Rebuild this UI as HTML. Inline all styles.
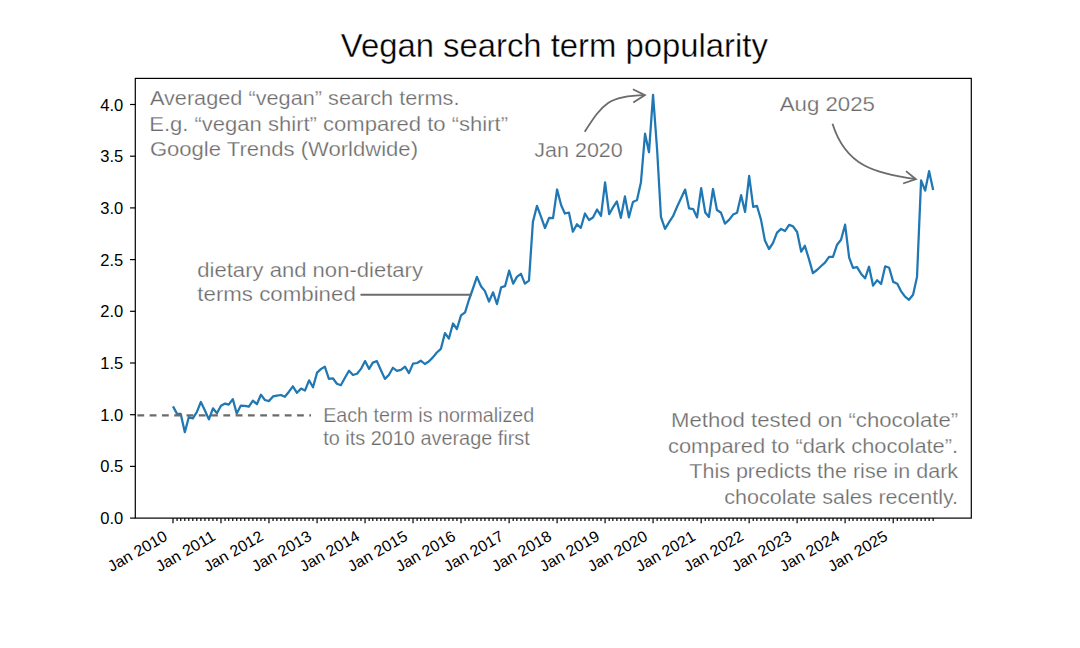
<!DOCTYPE html>
<html><head><meta charset="utf-8"><style>
html,body{margin:0;padding:0;background:#fff;width:1080px;height:648px;overflow:hidden}
svg text{font-family:"Liberation Sans", sans-serif}
</style></head><body>
<svg width="1080" height="648" viewBox="0 0 1080 648" style="display:block">
<rect width="1080" height="648" fill="#fff"/>
<text x="554.3" y="56.8" text-anchor="middle" font-size="33" fill="#000" stroke="#fff" stroke-width="0.35" textLength="427" lengthAdjust="spacingAndGlyphs">Vegan search term popularity</text>
<polyline points="173.00,406.40 177.07,413.90 180.76,413.90 184.83,432.20 188.77,417.20 192.85,418.30 196.79,412.20 200.87,402.00 204.94,410.60 208.89,419.40 212.96,408.30 216.90,413.30 220.98,405.80 225.05,403.60 228.73,404.70 232.81,399.10 236.75,413.60 240.83,405.60 244.77,405.80 248.85,406.70 252.92,400.60 256.87,404.20 260.94,394.70 264.88,400.00 268.96,401.10 273.03,396.40 276.85,395.60 280.92,395.00 284.86,396.80 288.94,391.70 292.88,386.30 296.96,392.80 301.03,388.60 304.98,390.60 309.05,380.30 312.99,387.20 317.07,372.60 321.14,368.90 324.82,366.70 328.90,378.90 332.84,378.30 336.92,383.70 340.86,385.20 344.94,377.80 349.01,370.80 352.96,375.00 357.03,373.70 360.97,368.90 365.05,361.10 369.12,368.90 372.80,362.60 376.88,361.10 380.82,370.00 384.90,378.90 388.84,375.00 392.92,367.80 396.99,370.80 400.93,369.80 405.01,366.70 408.95,373.10 413.03,363.60 417.10,363.00 420.78,360.70 424.86,364.00 428.80,361.50 432.88,357.40 436.82,352.50 440.90,348.80 444.97,333.10 448.91,338.50 452.99,323.50 456.93,329.00 461.01,315.40 465.08,312.30 468.89,300.00 472.97,288.50 476.91,276.90 480.99,286.20 484.93,291.10 489.01,301.60 493.08,292.30 497.02,304.10 501.10,287.40 505.04,286.20 509.12,270.70 513.19,283.70 516.87,276.90 520.95,273.80 524.89,283.70 528.97,280.60 532.91,221.90 536.99,205.80 541.06,216.90 545.00,228.00 549.08,217.90 553.02,218.10 557.10,189.50 561.17,205.20 564.85,213.50 568.93,212.60 572.87,231.70 576.95,224.30 580.89,227.80 584.96,213.50 589.04,220.00 592.98,217.50 597.06,209.50 601.00,215.90 605.08,182.30 609.15,214.10 612.83,207.70 616.91,201.40 620.85,217.80 624.93,196.40 628.87,217.40 632.94,202.00 637.02,200.10 640.96,182.20 645.04,133.70 648.98,152.20 653.06,94.80 657.13,150.00 660.94,216.80 665.02,228.90 668.96,222.30 673.04,216.20 676.98,207.00 681.05,198.30 685.13,189.60 689.07,208.40 693.15,209.10 697.09,217.40 701.17,188.10 705.24,212.50 708.92,217.00 713.00,189.00 716.94,210.00 721.02,212.80 724.96,223.60 729.03,219.90 733.11,214.60 737.05,212.80 741.13,195.20 745.07,211.90 749.15,175.80 753.22,206.90 756.90,205.80 760.98,219.60 764.92,240.60 768.99,249.00 772.94,243.10 777.01,232.60 781.09,228.90 785.03,231.00 789.11,224.80 793.05,226.40 797.12,232.00 801.20,251.70 804.88,245.80 808.96,259.10 812.90,273.10 816.97,270.00 820.92,266.30 824.99,262.60 829.07,256.80 833.01,256.80 837.09,244.70 841.03,239.80 845.10,224.70 849.18,257.70 852.99,267.90 857.07,267.20 861.01,273.70 865.08,278.30 869.03,266.70 873.10,285.70 877.18,280.20 881.12,284.00 885.20,266.30 889.14,267.70 893.21,281.90 897.29,283.70 900.97,291.10 905.05,296.70 908.99,299.80 913.06,294.80 917.01,276.90 921.08,180.40 925.16,190.60 929.10,171.20 933.18,189.90" fill="none" stroke="#1f77b4" stroke-width="2.25" stroke-linejoin="round" stroke-linecap="butt"/>
<line x1="137.4" y1="415.4" x2="311" y2="415.4" stroke="#6b6b6b" stroke-width="2.2" stroke-dasharray="6.8 5.48"/>
<rect x="135.3" y="78.4" width="836.0" height="439.70000000000005" fill="none" stroke="#000" stroke-width="1.2"/>
<line x1="130.05" y1="518.10" x2="135.3" y2="518.10" stroke="#000" stroke-width="1.2"/>
<text x="123.25000000000001" y="524.10" text-anchor="end" font-size="15.6" fill="#000" textLength="23" lengthAdjust="spacingAndGlyphs">0.0</text>
<line x1="130.05" y1="466.40" x2="135.3" y2="466.40" stroke="#000" stroke-width="1.2"/>
<text x="123.25000000000001" y="472.40" text-anchor="end" font-size="15.6" fill="#000" textLength="23" lengthAdjust="spacingAndGlyphs">0.5</text>
<line x1="130.05" y1="414.70" x2="135.3" y2="414.70" stroke="#000" stroke-width="1.2"/>
<text x="123.25000000000001" y="420.70" text-anchor="end" font-size="15.6" fill="#000" textLength="23" lengthAdjust="spacingAndGlyphs">1.0</text>
<line x1="130.05" y1="363.00" x2="135.3" y2="363.00" stroke="#000" stroke-width="1.2"/>
<text x="123.25000000000001" y="369.00" text-anchor="end" font-size="15.6" fill="#000" textLength="23" lengthAdjust="spacingAndGlyphs">1.5</text>
<line x1="130.05" y1="311.30" x2="135.3" y2="311.30" stroke="#000" stroke-width="1.2"/>
<text x="123.25000000000001" y="317.30" text-anchor="end" font-size="15.6" fill="#000" textLength="23" lengthAdjust="spacingAndGlyphs">2.0</text>
<line x1="130.05" y1="259.60" x2="135.3" y2="259.60" stroke="#000" stroke-width="1.2"/>
<text x="123.25000000000001" y="265.60" text-anchor="end" font-size="15.6" fill="#000" textLength="23" lengthAdjust="spacingAndGlyphs">2.5</text>
<line x1="130.05" y1="207.90" x2="135.3" y2="207.90" stroke="#000" stroke-width="1.2"/>
<text x="123.25000000000001" y="213.90" text-anchor="end" font-size="15.6" fill="#000" textLength="23" lengthAdjust="spacingAndGlyphs">3.0</text>
<line x1="130.05" y1="156.20" x2="135.3" y2="156.20" stroke="#000" stroke-width="1.2"/>
<text x="123.25000000000001" y="162.20" text-anchor="end" font-size="15.6" fill="#000" textLength="23" lengthAdjust="spacingAndGlyphs">3.5</text>
<line x1="130.05" y1="104.50" x2="135.3" y2="104.50" stroke="#000" stroke-width="1.2"/>
<text x="123.25000000000001" y="110.50" text-anchor="end" font-size="15.6" fill="#000" textLength="23" lengthAdjust="spacingAndGlyphs">4.0</text>
<line x1="173.00" y1="518.1" x2="173.00" y2="523.35" stroke="#000" stroke-width="1.2"/>
<line x1="177.07" y1="518.1" x2="177.07" y2="521.1" stroke="#000" stroke-width="1.2"/>
<line x1="180.76" y1="518.1" x2="180.76" y2="521.1" stroke="#000" stroke-width="1.2"/>
<line x1="184.83" y1="518.1" x2="184.83" y2="521.1" stroke="#000" stroke-width="1.2"/>
<line x1="188.77" y1="518.1" x2="188.77" y2="521.1" stroke="#000" stroke-width="1.2"/>
<line x1="192.85" y1="518.1" x2="192.85" y2="521.1" stroke="#000" stroke-width="1.2"/>
<line x1="196.79" y1="518.1" x2="196.79" y2="521.1" stroke="#000" stroke-width="1.2"/>
<line x1="200.87" y1="518.1" x2="200.87" y2="521.1" stroke="#000" stroke-width="1.2"/>
<line x1="204.94" y1="518.1" x2="204.94" y2="521.1" stroke="#000" stroke-width="1.2"/>
<line x1="208.89" y1="518.1" x2="208.89" y2="521.1" stroke="#000" stroke-width="1.2"/>
<line x1="212.96" y1="518.1" x2="212.96" y2="521.1" stroke="#000" stroke-width="1.2"/>
<line x1="216.90" y1="518.1" x2="216.90" y2="521.1" stroke="#000" stroke-width="1.2"/>
<line x1="220.98" y1="518.1" x2="220.98" y2="523.35" stroke="#000" stroke-width="1.2"/>
<line x1="225.05" y1="518.1" x2="225.05" y2="521.1" stroke="#000" stroke-width="1.2"/>
<line x1="228.73" y1="518.1" x2="228.73" y2="521.1" stroke="#000" stroke-width="1.2"/>
<line x1="232.81" y1="518.1" x2="232.81" y2="521.1" stroke="#000" stroke-width="1.2"/>
<line x1="236.75" y1="518.1" x2="236.75" y2="521.1" stroke="#000" stroke-width="1.2"/>
<line x1="240.83" y1="518.1" x2="240.83" y2="521.1" stroke="#000" stroke-width="1.2"/>
<line x1="244.77" y1="518.1" x2="244.77" y2="521.1" stroke="#000" stroke-width="1.2"/>
<line x1="248.85" y1="518.1" x2="248.85" y2="521.1" stroke="#000" stroke-width="1.2"/>
<line x1="252.92" y1="518.1" x2="252.92" y2="521.1" stroke="#000" stroke-width="1.2"/>
<line x1="256.87" y1="518.1" x2="256.87" y2="521.1" stroke="#000" stroke-width="1.2"/>
<line x1="260.94" y1="518.1" x2="260.94" y2="521.1" stroke="#000" stroke-width="1.2"/>
<line x1="264.88" y1="518.1" x2="264.88" y2="521.1" stroke="#000" stroke-width="1.2"/>
<line x1="268.96" y1="518.1" x2="268.96" y2="523.35" stroke="#000" stroke-width="1.2"/>
<line x1="273.03" y1="518.1" x2="273.03" y2="521.1" stroke="#000" stroke-width="1.2"/>
<line x1="276.85" y1="518.1" x2="276.85" y2="521.1" stroke="#000" stroke-width="1.2"/>
<line x1="280.92" y1="518.1" x2="280.92" y2="521.1" stroke="#000" stroke-width="1.2"/>
<line x1="284.86" y1="518.1" x2="284.86" y2="521.1" stroke="#000" stroke-width="1.2"/>
<line x1="288.94" y1="518.1" x2="288.94" y2="521.1" stroke="#000" stroke-width="1.2"/>
<line x1="292.88" y1="518.1" x2="292.88" y2="521.1" stroke="#000" stroke-width="1.2"/>
<line x1="296.96" y1="518.1" x2="296.96" y2="521.1" stroke="#000" stroke-width="1.2"/>
<line x1="301.03" y1="518.1" x2="301.03" y2="521.1" stroke="#000" stroke-width="1.2"/>
<line x1="304.98" y1="518.1" x2="304.98" y2="521.1" stroke="#000" stroke-width="1.2"/>
<line x1="309.05" y1="518.1" x2="309.05" y2="521.1" stroke="#000" stroke-width="1.2"/>
<line x1="312.99" y1="518.1" x2="312.99" y2="521.1" stroke="#000" stroke-width="1.2"/>
<line x1="317.07" y1="518.1" x2="317.07" y2="523.35" stroke="#000" stroke-width="1.2"/>
<line x1="321.14" y1="518.1" x2="321.14" y2="521.1" stroke="#000" stroke-width="1.2"/>
<line x1="324.82" y1="518.1" x2="324.82" y2="521.1" stroke="#000" stroke-width="1.2"/>
<line x1="328.90" y1="518.1" x2="328.90" y2="521.1" stroke="#000" stroke-width="1.2"/>
<line x1="332.84" y1="518.1" x2="332.84" y2="521.1" stroke="#000" stroke-width="1.2"/>
<line x1="336.92" y1="518.1" x2="336.92" y2="521.1" stroke="#000" stroke-width="1.2"/>
<line x1="340.86" y1="518.1" x2="340.86" y2="521.1" stroke="#000" stroke-width="1.2"/>
<line x1="344.94" y1="518.1" x2="344.94" y2="521.1" stroke="#000" stroke-width="1.2"/>
<line x1="349.01" y1="518.1" x2="349.01" y2="521.1" stroke="#000" stroke-width="1.2"/>
<line x1="352.96" y1="518.1" x2="352.96" y2="521.1" stroke="#000" stroke-width="1.2"/>
<line x1="357.03" y1="518.1" x2="357.03" y2="521.1" stroke="#000" stroke-width="1.2"/>
<line x1="360.97" y1="518.1" x2="360.97" y2="521.1" stroke="#000" stroke-width="1.2"/>
<line x1="365.05" y1="518.1" x2="365.05" y2="523.35" stroke="#000" stroke-width="1.2"/>
<line x1="369.12" y1="518.1" x2="369.12" y2="521.1" stroke="#000" stroke-width="1.2"/>
<line x1="372.80" y1="518.1" x2="372.80" y2="521.1" stroke="#000" stroke-width="1.2"/>
<line x1="376.88" y1="518.1" x2="376.88" y2="521.1" stroke="#000" stroke-width="1.2"/>
<line x1="380.82" y1="518.1" x2="380.82" y2="521.1" stroke="#000" stroke-width="1.2"/>
<line x1="384.90" y1="518.1" x2="384.90" y2="521.1" stroke="#000" stroke-width="1.2"/>
<line x1="388.84" y1="518.1" x2="388.84" y2="521.1" stroke="#000" stroke-width="1.2"/>
<line x1="392.92" y1="518.1" x2="392.92" y2="521.1" stroke="#000" stroke-width="1.2"/>
<line x1="396.99" y1="518.1" x2="396.99" y2="521.1" stroke="#000" stroke-width="1.2"/>
<line x1="400.93" y1="518.1" x2="400.93" y2="521.1" stroke="#000" stroke-width="1.2"/>
<line x1="405.01" y1="518.1" x2="405.01" y2="521.1" stroke="#000" stroke-width="1.2"/>
<line x1="408.95" y1="518.1" x2="408.95" y2="521.1" stroke="#000" stroke-width="1.2"/>
<line x1="413.03" y1="518.1" x2="413.03" y2="523.35" stroke="#000" stroke-width="1.2"/>
<line x1="417.10" y1="518.1" x2="417.10" y2="521.1" stroke="#000" stroke-width="1.2"/>
<line x1="420.78" y1="518.1" x2="420.78" y2="521.1" stroke="#000" stroke-width="1.2"/>
<line x1="424.86" y1="518.1" x2="424.86" y2="521.1" stroke="#000" stroke-width="1.2"/>
<line x1="428.80" y1="518.1" x2="428.80" y2="521.1" stroke="#000" stroke-width="1.2"/>
<line x1="432.88" y1="518.1" x2="432.88" y2="521.1" stroke="#000" stroke-width="1.2"/>
<line x1="436.82" y1="518.1" x2="436.82" y2="521.1" stroke="#000" stroke-width="1.2"/>
<line x1="440.90" y1="518.1" x2="440.90" y2="521.1" stroke="#000" stroke-width="1.2"/>
<line x1="444.97" y1="518.1" x2="444.97" y2="521.1" stroke="#000" stroke-width="1.2"/>
<line x1="448.91" y1="518.1" x2="448.91" y2="521.1" stroke="#000" stroke-width="1.2"/>
<line x1="452.99" y1="518.1" x2="452.99" y2="521.1" stroke="#000" stroke-width="1.2"/>
<line x1="456.93" y1="518.1" x2="456.93" y2="521.1" stroke="#000" stroke-width="1.2"/>
<line x1="461.01" y1="518.1" x2="461.01" y2="523.35" stroke="#000" stroke-width="1.2"/>
<line x1="465.08" y1="518.1" x2="465.08" y2="521.1" stroke="#000" stroke-width="1.2"/>
<line x1="468.89" y1="518.1" x2="468.89" y2="521.1" stroke="#000" stroke-width="1.2"/>
<line x1="472.97" y1="518.1" x2="472.97" y2="521.1" stroke="#000" stroke-width="1.2"/>
<line x1="476.91" y1="518.1" x2="476.91" y2="521.1" stroke="#000" stroke-width="1.2"/>
<line x1="480.99" y1="518.1" x2="480.99" y2="521.1" stroke="#000" stroke-width="1.2"/>
<line x1="484.93" y1="518.1" x2="484.93" y2="521.1" stroke="#000" stroke-width="1.2"/>
<line x1="489.01" y1="518.1" x2="489.01" y2="521.1" stroke="#000" stroke-width="1.2"/>
<line x1="493.08" y1="518.1" x2="493.08" y2="521.1" stroke="#000" stroke-width="1.2"/>
<line x1="497.02" y1="518.1" x2="497.02" y2="521.1" stroke="#000" stroke-width="1.2"/>
<line x1="501.10" y1="518.1" x2="501.10" y2="521.1" stroke="#000" stroke-width="1.2"/>
<line x1="505.04" y1="518.1" x2="505.04" y2="521.1" stroke="#000" stroke-width="1.2"/>
<line x1="509.12" y1="518.1" x2="509.12" y2="523.35" stroke="#000" stroke-width="1.2"/>
<line x1="513.19" y1="518.1" x2="513.19" y2="521.1" stroke="#000" stroke-width="1.2"/>
<line x1="516.87" y1="518.1" x2="516.87" y2="521.1" stroke="#000" stroke-width="1.2"/>
<line x1="520.95" y1="518.1" x2="520.95" y2="521.1" stroke="#000" stroke-width="1.2"/>
<line x1="524.89" y1="518.1" x2="524.89" y2="521.1" stroke="#000" stroke-width="1.2"/>
<line x1="528.97" y1="518.1" x2="528.97" y2="521.1" stroke="#000" stroke-width="1.2"/>
<line x1="532.91" y1="518.1" x2="532.91" y2="521.1" stroke="#000" stroke-width="1.2"/>
<line x1="536.99" y1="518.1" x2="536.99" y2="521.1" stroke="#000" stroke-width="1.2"/>
<line x1="541.06" y1="518.1" x2="541.06" y2="521.1" stroke="#000" stroke-width="1.2"/>
<line x1="545.00" y1="518.1" x2="545.00" y2="521.1" stroke="#000" stroke-width="1.2"/>
<line x1="549.08" y1="518.1" x2="549.08" y2="521.1" stroke="#000" stroke-width="1.2"/>
<line x1="553.02" y1="518.1" x2="553.02" y2="521.1" stroke="#000" stroke-width="1.2"/>
<line x1="557.10" y1="518.1" x2="557.10" y2="523.35" stroke="#000" stroke-width="1.2"/>
<line x1="561.17" y1="518.1" x2="561.17" y2="521.1" stroke="#000" stroke-width="1.2"/>
<line x1="564.85" y1="518.1" x2="564.85" y2="521.1" stroke="#000" stroke-width="1.2"/>
<line x1="568.93" y1="518.1" x2="568.93" y2="521.1" stroke="#000" stroke-width="1.2"/>
<line x1="572.87" y1="518.1" x2="572.87" y2="521.1" stroke="#000" stroke-width="1.2"/>
<line x1="576.95" y1="518.1" x2="576.95" y2="521.1" stroke="#000" stroke-width="1.2"/>
<line x1="580.89" y1="518.1" x2="580.89" y2="521.1" stroke="#000" stroke-width="1.2"/>
<line x1="584.96" y1="518.1" x2="584.96" y2="521.1" stroke="#000" stroke-width="1.2"/>
<line x1="589.04" y1="518.1" x2="589.04" y2="521.1" stroke="#000" stroke-width="1.2"/>
<line x1="592.98" y1="518.1" x2="592.98" y2="521.1" stroke="#000" stroke-width="1.2"/>
<line x1="597.06" y1="518.1" x2="597.06" y2="521.1" stroke="#000" stroke-width="1.2"/>
<line x1="601.00" y1="518.1" x2="601.00" y2="521.1" stroke="#000" stroke-width="1.2"/>
<line x1="605.08" y1="518.1" x2="605.08" y2="523.35" stroke="#000" stroke-width="1.2"/>
<line x1="609.15" y1="518.1" x2="609.15" y2="521.1" stroke="#000" stroke-width="1.2"/>
<line x1="612.83" y1="518.1" x2="612.83" y2="521.1" stroke="#000" stroke-width="1.2"/>
<line x1="616.91" y1="518.1" x2="616.91" y2="521.1" stroke="#000" stroke-width="1.2"/>
<line x1="620.85" y1="518.1" x2="620.85" y2="521.1" stroke="#000" stroke-width="1.2"/>
<line x1="624.93" y1="518.1" x2="624.93" y2="521.1" stroke="#000" stroke-width="1.2"/>
<line x1="628.87" y1="518.1" x2="628.87" y2="521.1" stroke="#000" stroke-width="1.2"/>
<line x1="632.94" y1="518.1" x2="632.94" y2="521.1" stroke="#000" stroke-width="1.2"/>
<line x1="637.02" y1="518.1" x2="637.02" y2="521.1" stroke="#000" stroke-width="1.2"/>
<line x1="640.96" y1="518.1" x2="640.96" y2="521.1" stroke="#000" stroke-width="1.2"/>
<line x1="645.04" y1="518.1" x2="645.04" y2="521.1" stroke="#000" stroke-width="1.2"/>
<line x1="648.98" y1="518.1" x2="648.98" y2="521.1" stroke="#000" stroke-width="1.2"/>
<line x1="653.06" y1="518.1" x2="653.06" y2="523.35" stroke="#000" stroke-width="1.2"/>
<line x1="657.13" y1="518.1" x2="657.13" y2="521.1" stroke="#000" stroke-width="1.2"/>
<line x1="660.94" y1="518.1" x2="660.94" y2="521.1" stroke="#000" stroke-width="1.2"/>
<line x1="665.02" y1="518.1" x2="665.02" y2="521.1" stroke="#000" stroke-width="1.2"/>
<line x1="668.96" y1="518.1" x2="668.96" y2="521.1" stroke="#000" stroke-width="1.2"/>
<line x1="673.04" y1="518.1" x2="673.04" y2="521.1" stroke="#000" stroke-width="1.2"/>
<line x1="676.98" y1="518.1" x2="676.98" y2="521.1" stroke="#000" stroke-width="1.2"/>
<line x1="681.05" y1="518.1" x2="681.05" y2="521.1" stroke="#000" stroke-width="1.2"/>
<line x1="685.13" y1="518.1" x2="685.13" y2="521.1" stroke="#000" stroke-width="1.2"/>
<line x1="689.07" y1="518.1" x2="689.07" y2="521.1" stroke="#000" stroke-width="1.2"/>
<line x1="693.15" y1="518.1" x2="693.15" y2="521.1" stroke="#000" stroke-width="1.2"/>
<line x1="697.09" y1="518.1" x2="697.09" y2="521.1" stroke="#000" stroke-width="1.2"/>
<line x1="701.17" y1="518.1" x2="701.17" y2="523.35" stroke="#000" stroke-width="1.2"/>
<line x1="705.24" y1="518.1" x2="705.24" y2="521.1" stroke="#000" stroke-width="1.2"/>
<line x1="708.92" y1="518.1" x2="708.92" y2="521.1" stroke="#000" stroke-width="1.2"/>
<line x1="713.00" y1="518.1" x2="713.00" y2="521.1" stroke="#000" stroke-width="1.2"/>
<line x1="716.94" y1="518.1" x2="716.94" y2="521.1" stroke="#000" stroke-width="1.2"/>
<line x1="721.02" y1="518.1" x2="721.02" y2="521.1" stroke="#000" stroke-width="1.2"/>
<line x1="724.96" y1="518.1" x2="724.96" y2="521.1" stroke="#000" stroke-width="1.2"/>
<line x1="729.03" y1="518.1" x2="729.03" y2="521.1" stroke="#000" stroke-width="1.2"/>
<line x1="733.11" y1="518.1" x2="733.11" y2="521.1" stroke="#000" stroke-width="1.2"/>
<line x1="737.05" y1="518.1" x2="737.05" y2="521.1" stroke="#000" stroke-width="1.2"/>
<line x1="741.13" y1="518.1" x2="741.13" y2="521.1" stroke="#000" stroke-width="1.2"/>
<line x1="745.07" y1="518.1" x2="745.07" y2="521.1" stroke="#000" stroke-width="1.2"/>
<line x1="749.15" y1="518.1" x2="749.15" y2="523.35" stroke="#000" stroke-width="1.2"/>
<line x1="753.22" y1="518.1" x2="753.22" y2="521.1" stroke="#000" stroke-width="1.2"/>
<line x1="756.90" y1="518.1" x2="756.90" y2="521.1" stroke="#000" stroke-width="1.2"/>
<line x1="760.98" y1="518.1" x2="760.98" y2="521.1" stroke="#000" stroke-width="1.2"/>
<line x1="764.92" y1="518.1" x2="764.92" y2="521.1" stroke="#000" stroke-width="1.2"/>
<line x1="768.99" y1="518.1" x2="768.99" y2="521.1" stroke="#000" stroke-width="1.2"/>
<line x1="772.94" y1="518.1" x2="772.94" y2="521.1" stroke="#000" stroke-width="1.2"/>
<line x1="777.01" y1="518.1" x2="777.01" y2="521.1" stroke="#000" stroke-width="1.2"/>
<line x1="781.09" y1="518.1" x2="781.09" y2="521.1" stroke="#000" stroke-width="1.2"/>
<line x1="785.03" y1="518.1" x2="785.03" y2="521.1" stroke="#000" stroke-width="1.2"/>
<line x1="789.11" y1="518.1" x2="789.11" y2="521.1" stroke="#000" stroke-width="1.2"/>
<line x1="793.05" y1="518.1" x2="793.05" y2="521.1" stroke="#000" stroke-width="1.2"/>
<line x1="797.12" y1="518.1" x2="797.12" y2="523.35" stroke="#000" stroke-width="1.2"/>
<line x1="801.20" y1="518.1" x2="801.20" y2="521.1" stroke="#000" stroke-width="1.2"/>
<line x1="804.88" y1="518.1" x2="804.88" y2="521.1" stroke="#000" stroke-width="1.2"/>
<line x1="808.96" y1="518.1" x2="808.96" y2="521.1" stroke="#000" stroke-width="1.2"/>
<line x1="812.90" y1="518.1" x2="812.90" y2="521.1" stroke="#000" stroke-width="1.2"/>
<line x1="816.97" y1="518.1" x2="816.97" y2="521.1" stroke="#000" stroke-width="1.2"/>
<line x1="820.92" y1="518.1" x2="820.92" y2="521.1" stroke="#000" stroke-width="1.2"/>
<line x1="824.99" y1="518.1" x2="824.99" y2="521.1" stroke="#000" stroke-width="1.2"/>
<line x1="829.07" y1="518.1" x2="829.07" y2="521.1" stroke="#000" stroke-width="1.2"/>
<line x1="833.01" y1="518.1" x2="833.01" y2="521.1" stroke="#000" stroke-width="1.2"/>
<line x1="837.09" y1="518.1" x2="837.09" y2="521.1" stroke="#000" stroke-width="1.2"/>
<line x1="841.03" y1="518.1" x2="841.03" y2="521.1" stroke="#000" stroke-width="1.2"/>
<line x1="845.10" y1="518.1" x2="845.10" y2="523.35" stroke="#000" stroke-width="1.2"/>
<line x1="849.18" y1="518.1" x2="849.18" y2="521.1" stroke="#000" stroke-width="1.2"/>
<line x1="852.99" y1="518.1" x2="852.99" y2="521.1" stroke="#000" stroke-width="1.2"/>
<line x1="857.07" y1="518.1" x2="857.07" y2="521.1" stroke="#000" stroke-width="1.2"/>
<line x1="861.01" y1="518.1" x2="861.01" y2="521.1" stroke="#000" stroke-width="1.2"/>
<line x1="865.08" y1="518.1" x2="865.08" y2="521.1" stroke="#000" stroke-width="1.2"/>
<line x1="869.03" y1="518.1" x2="869.03" y2="521.1" stroke="#000" stroke-width="1.2"/>
<line x1="873.10" y1="518.1" x2="873.10" y2="521.1" stroke="#000" stroke-width="1.2"/>
<line x1="877.18" y1="518.1" x2="877.18" y2="521.1" stroke="#000" stroke-width="1.2"/>
<line x1="881.12" y1="518.1" x2="881.12" y2="521.1" stroke="#000" stroke-width="1.2"/>
<line x1="885.20" y1="518.1" x2="885.20" y2="521.1" stroke="#000" stroke-width="1.2"/>
<line x1="889.14" y1="518.1" x2="889.14" y2="521.1" stroke="#000" stroke-width="1.2"/>
<line x1="893.21" y1="518.1" x2="893.21" y2="523.35" stroke="#000" stroke-width="1.2"/>
<line x1="897.29" y1="518.1" x2="897.29" y2="521.1" stroke="#000" stroke-width="1.2"/>
<line x1="900.97" y1="518.1" x2="900.97" y2="521.1" stroke="#000" stroke-width="1.2"/>
<line x1="905.05" y1="518.1" x2="905.05" y2="521.1" stroke="#000" stroke-width="1.2"/>
<line x1="908.99" y1="518.1" x2="908.99" y2="521.1" stroke="#000" stroke-width="1.2"/>
<line x1="913.06" y1="518.1" x2="913.06" y2="521.1" stroke="#000" stroke-width="1.2"/>
<line x1="917.01" y1="518.1" x2="917.01" y2="521.1" stroke="#000" stroke-width="1.2"/>
<line x1="921.08" y1="518.1" x2="921.08" y2="521.1" stroke="#000" stroke-width="1.2"/>
<line x1="925.16" y1="518.1" x2="925.16" y2="521.1" stroke="#000" stroke-width="1.2"/>
<line x1="929.10" y1="518.1" x2="929.10" y2="521.1" stroke="#000" stroke-width="1.2"/>
<line x1="933.18" y1="518.1" x2="933.18" y2="521.1" stroke="#000" stroke-width="1.2"/>
<text transform="translate(168.60,539.3) rotate(-30)" text-anchor="end" font-size="15.6" fill="#000" textLength="66" lengthAdjust="spacingAndGlyphs">Jan 2010</text>
<text transform="translate(216.58,539.3) rotate(-30)" text-anchor="end" font-size="15.6" fill="#000" textLength="66" lengthAdjust="spacingAndGlyphs">Jan 2011</text>
<text transform="translate(264.56,539.3) rotate(-30)" text-anchor="end" font-size="15.6" fill="#000" textLength="66" lengthAdjust="spacingAndGlyphs">Jan 2012</text>
<text transform="translate(312.67,539.3) rotate(-30)" text-anchor="end" font-size="15.6" fill="#000" textLength="66" lengthAdjust="spacingAndGlyphs">Jan 2013</text>
<text transform="translate(360.65,539.3) rotate(-30)" text-anchor="end" font-size="15.6" fill="#000" textLength="66" lengthAdjust="spacingAndGlyphs">Jan 2014</text>
<text transform="translate(408.63,539.3) rotate(-30)" text-anchor="end" font-size="15.6" fill="#000" textLength="66" lengthAdjust="spacingAndGlyphs">Jan 2015</text>
<text transform="translate(456.61,539.3) rotate(-30)" text-anchor="end" font-size="15.6" fill="#000" textLength="66" lengthAdjust="spacingAndGlyphs">Jan 2016</text>
<text transform="translate(504.72,539.3) rotate(-30)" text-anchor="end" font-size="15.6" fill="#000" textLength="66" lengthAdjust="spacingAndGlyphs">Jan 2017</text>
<text transform="translate(552.70,539.3) rotate(-30)" text-anchor="end" font-size="15.6" fill="#000" textLength="66" lengthAdjust="spacingAndGlyphs">Jan 2018</text>
<text transform="translate(600.68,539.3) rotate(-30)" text-anchor="end" font-size="15.6" fill="#000" textLength="66" lengthAdjust="spacingAndGlyphs">Jan 2019</text>
<text transform="translate(648.66,539.3) rotate(-30)" text-anchor="end" font-size="15.6" fill="#000" textLength="66" lengthAdjust="spacingAndGlyphs">Jan 2020</text>
<text transform="translate(696.77,539.3) rotate(-30)" text-anchor="end" font-size="15.6" fill="#000" textLength="66" lengthAdjust="spacingAndGlyphs">Jan 2021</text>
<text transform="translate(744.75,539.3) rotate(-30)" text-anchor="end" font-size="15.6" fill="#000" textLength="66" lengthAdjust="spacingAndGlyphs">Jan 2022</text>
<text transform="translate(792.72,539.3) rotate(-30)" text-anchor="end" font-size="15.6" fill="#000" textLength="66" lengthAdjust="spacingAndGlyphs">Jan 2023</text>
<text transform="translate(840.70,539.3) rotate(-30)" text-anchor="end" font-size="15.6" fill="#000" textLength="66" lengthAdjust="spacingAndGlyphs">Jan 2024</text>
<text transform="translate(888.81,539.3) rotate(-30)" text-anchor="end" font-size="15.6" fill="#000" textLength="66" lengthAdjust="spacingAndGlyphs">Jan 2025</text>
<text x="149.9" y="104.9" text-anchor="start" font-size="20.5" fill="#6b6b6b" stroke="#fff" stroke-width="0.25" textLength="309.6" lengthAdjust="spacingAndGlyphs">Averaged “vegan” search terms.</text>
<text x="149.2" y="130.5" text-anchor="start" font-size="20.5" fill="#6b6b6b" stroke="#fff" stroke-width="0.25" textLength="358.8" lengthAdjust="spacingAndGlyphs">E.g. “vegan shirt” compared to “shirt”</text>
<text x="149.9" y="156.1" text-anchor="start" font-size="20.5" fill="#6b6b6b" stroke="#fff" stroke-width="0.25" textLength="268.1" lengthAdjust="spacingAndGlyphs">Google Trends (Worldwide)</text>
<text x="197.3" y="276.8" text-anchor="start" font-size="20.5" fill="#6b6b6b" stroke="#fff" stroke-width="0.25" textLength="225.7" lengthAdjust="spacingAndGlyphs">dietary and non-dietary</text>
<text x="197.3" y="301.3" text-anchor="start" font-size="20.5" fill="#6b6b6b" stroke="#fff" stroke-width="0.25" textLength="158.5" lengthAdjust="spacingAndGlyphs">terms combined</text>
<line x1="360.5" y1="294.75" x2="472" y2="294.75" stroke="#6b6b6b" stroke-width="1.8"/>
<text x="534.3" y="157.4" text-anchor="start" font-size="20.5" fill="#6b6b6b" stroke="#fff" stroke-width="0.25" textLength="88.5" lengthAdjust="spacingAndGlyphs">Jan 2020</text>
<text x="779.7" y="110.9" text-anchor="start" font-size="20.5" fill="#6b6b6b" stroke="#fff" stroke-width="0.25" textLength="95.2" lengthAdjust="spacingAndGlyphs">Aug 2025</text>
<text x="323.2" y="421.8" text-anchor="start" font-size="20.5" fill="#6b6b6b" stroke="#fff" stroke-width="0.25" textLength="211.0" lengthAdjust="spacingAndGlyphs">Each term is normalized</text>
<text x="323.2" y="444.9" text-anchor="start" font-size="20.5" fill="#6b6b6b" stroke="#fff" stroke-width="0.25" textLength="206.6" lengthAdjust="spacingAndGlyphs">to its 2010 average first</text>
<text x="958.1" y="427.3" text-anchor="end" font-size="20.5" fill="#6b6b6b" stroke="#fff" stroke-width="0.25" textLength="287.1" lengthAdjust="spacingAndGlyphs">Method tested on “chocolate”</text>
<text x="958.1" y="452.7" text-anchor="end" font-size="20.5" fill="#6b6b6b" stroke="#fff" stroke-width="0.25" textLength="290.1" lengthAdjust="spacingAndGlyphs">compared to “dark chocolate”.</text>
<text x="958.1" y="477.9" text-anchor="end" font-size="20.5" fill="#6b6b6b" stroke="#fff" stroke-width="0.25" textLength="268.8" lengthAdjust="spacingAndGlyphs">This predicts the rise in dark</text>
<text x="958.1" y="503.6" text-anchor="end" font-size="20.5" fill="#6b6b6b" stroke="#fff" stroke-width="0.25" textLength="233.8" lengthAdjust="spacingAndGlyphs">chocolate sales recently.</text>
<path d="M584.7,131.7 C603.2,103.1 608.6,95.8 644.9,95.1" fill="none" stroke="#6b6b6b" stroke-width="1.8"/>
<path d="M632.9,89.3 L644.9,95.1 L633.3,102.4" fill="none" stroke="#6b6b6b" stroke-width="1.8"/>
<path d="M832.5,123.7 C845.9,166.4 875.3,173.5 915.9,179.2" fill="none" stroke="#6b6b6b" stroke-width="1.8"/>
<path d="M906,171.1 L915.9,179.2 L903.1,183.5" fill="none" stroke="#6b6b6b" stroke-width="1.8"/>
</svg>
</body></html>
